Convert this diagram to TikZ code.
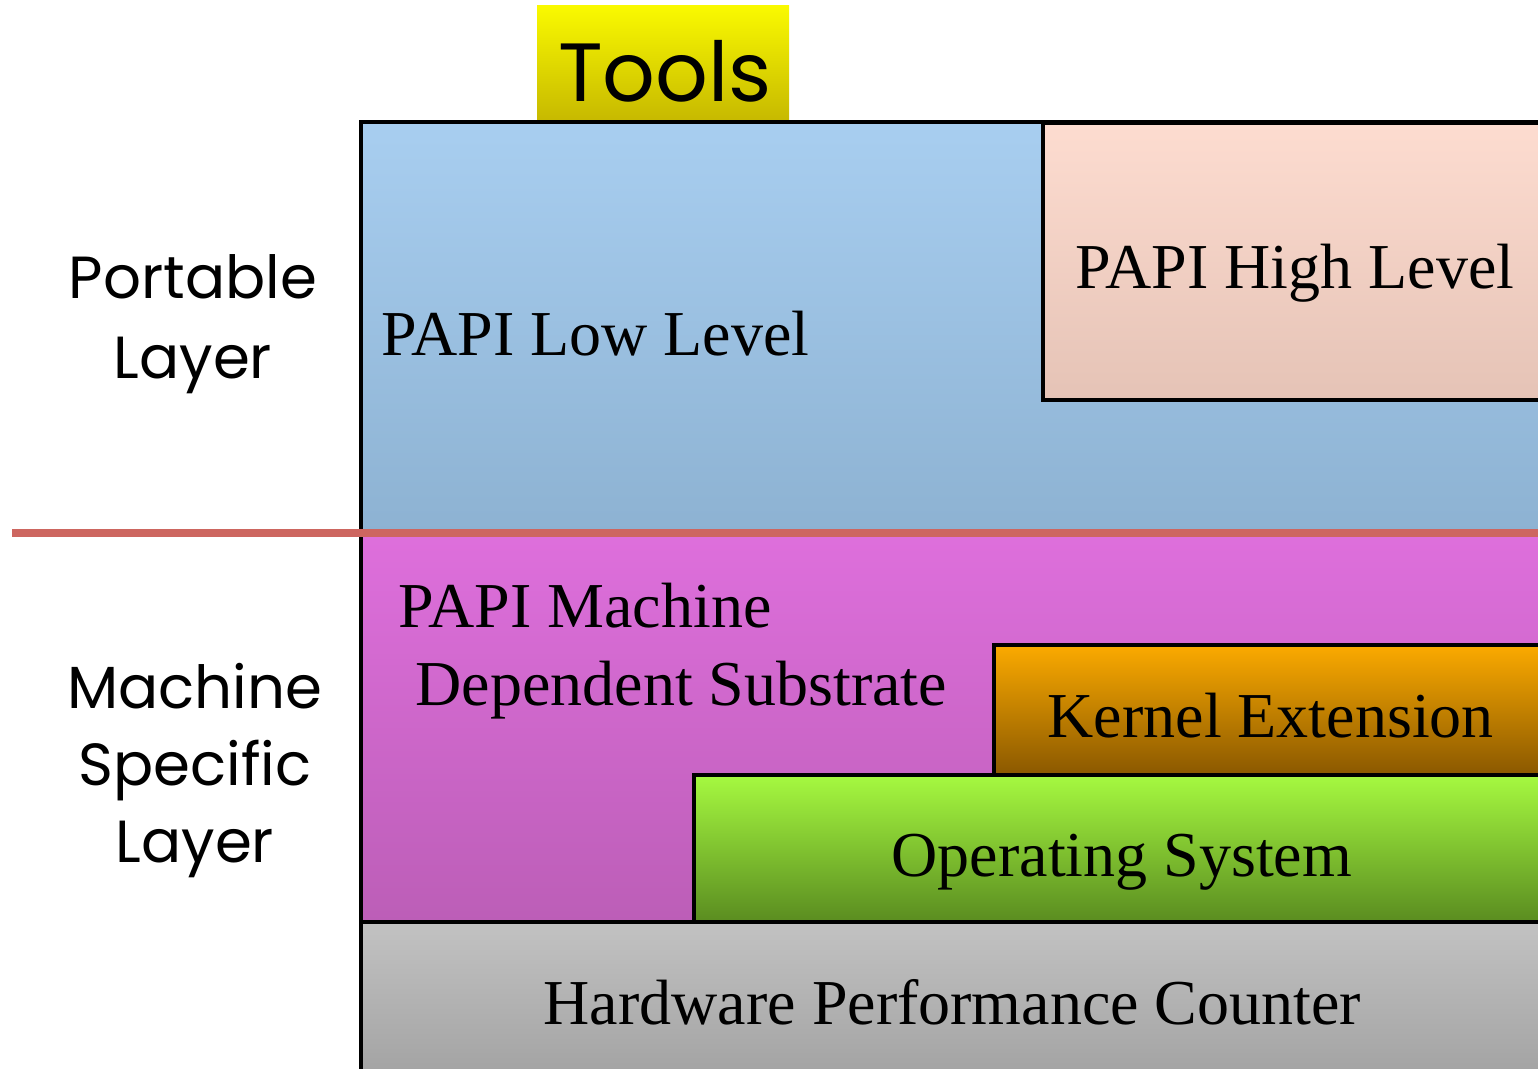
\documentclass[tikz,border=0pt]{standalone}
\usepackage{fontspec}
\setmainfont{Liberation Serif}
\newfontfamily\comic{Poppins}
\definecolor{toolsT}{HTML}{FAFA00}
\definecolor{toolsB}{HTML}{C6B800}
\definecolor{blueT}{HTML}{A8CEF0}
\definecolor{blueB}{HTML}{8DB2D2}
\definecolor{pinkT}{HTML}{FDDCD0}
\definecolor{pinkB}{HTML}{E5C3B6}
\definecolor{magT}{HTML}{DE6FDC}
\definecolor{magB}{HTML}{BC5EB7}
\definecolor{orT}{HTML}{FBAA00}
\definecolor{orB}{HTML}{8A5800}
\definecolor{grT}{HTML}{A6F940}
\definecolor{grB}{HTML}{5A8C20}
\definecolor{gyT}{HTML}{C2C2C2}
\definecolor{gyB}{HTML}{A0A0A0}
\definecolor{divider}{HTML}{CD6660}
\tikzset{
  layer/.style={draw=black, line width=0.9pt},
  serif/.style={font=\fontsize{18.2}{20}\selectfont, inner sep=0pt},
  comicl/.style={font=\comic\fontsize{16.9}{20}\selectfont, inner sep=0pt, anchor=base},
}
\begin{document}
\begin{tikzpicture}[x=0.01cm,y=-0.01cm]
\useasboundingbox (0,0) rectangle (1538,1069);
\clip (0,0) rectangle (1538,1069);
% Tools
\path[top color=toolsT, bottom color=toolsB] (537,5) rectangle (789,122);
\node[font=\comic\fontsize{23.5}{26}\selectfont, inner sep=0pt, anchor=base] (tools) at (665,101) {Tools};
% portable layer
\path[layer, top color=blueT, bottom color=blueB] (361,122) rectangle (1560,533);
\path[layer, top color=pinkT, bottom color=pinkB] (1043,123) rectangle (1560,400);
% machine layer
\path[layer, top color=magT, bottom color=magB] (361,533) rectangle (1560,922);
\path[layer, top color=orT, bottom color=orB] (994,645) rectangle (1560,775);
\path[layer, top color=grT, bottom color=grB] (694,775) rectangle (1560,922);
\path[layer, top color=gyT, bottom color=gyB] (361,922) rectangle (1560,1090);
% divider
\draw[divider, line width=2.3pt] (12,533) coordinate (divL) -- (1560,533) coordinate (divR);
% texts
\node[serif, anchor=base west] (low) at (381,355) {PAPI Low Level};
\node[serif, anchor=base west] (high) at (1075,288) {PAPI High Level};
\node[serif, anchor=base west] (mach1) at (398,627) {PAPI Machine};
\node[serif, anchor=base west] (mach2) at (415,705) {Dependent Substrate};
\node[serif, anchor=base west] (kern) at (1047,737) {Kernel Extension};
\node[serif, anchor=base west] (os) at (891,876) {Operating System};
\node[serif, anchor=base west] (hw) at (543,1024) {Hardware Performance Counter};
% side labels
\node[comicl] (port1) at (193,298) {Portable};
\node[comicl] (port2) at (193,378) {Layer};
\node[comicl] (ms1) at (195,708) {Machine};
\node[comicl] (ms2) at (195,785) {Specific};
\node[comicl] (ms3) at (195,862) {Layer};
\end{tikzpicture}
\end{document}
